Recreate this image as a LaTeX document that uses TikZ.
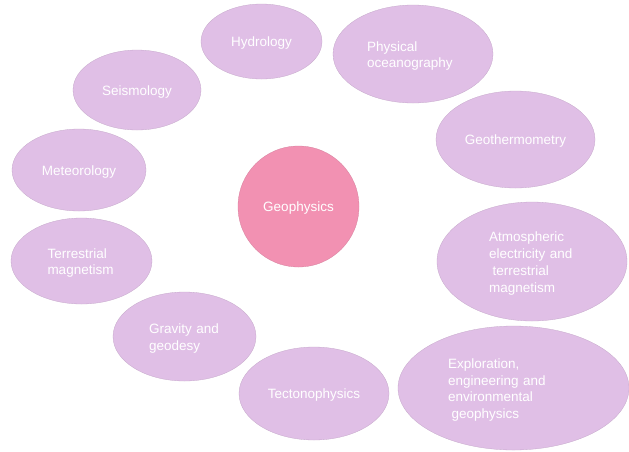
\documentclass[tikz,border=0pt]{standalone}
\usepackage{fontspec}
\setmainfont{Liberation Sans}
\usetikzlibrary{shapes.geometric}
\definecolor{lilac}{HTML}{E0BFE6}
\definecolor{rose}{HTML}{F291B2}

\begin{document}
\begin{tikzpicture}[x = 1pt, y = -1pt,
  topic/.style = {ellipse, fill = lilac, draw = lilac!88!black, line width = 0.3pt,
    text = white, inner sep = 0pt, align = left,
    font = \fontsize{13.5}{16.7}\selectfont,
    execute at begin node = \rule{0pt}{13.7pt}},
  core/.style = {circle, fill = rose, draw = rose!88!black, line width = 0.3pt,
    text = white, inner sep = 0pt, minimum size = 121pt,
    font = \fontsize{13.5}{16.7}\selectfont,
    execute at begin node = \rule{0pt}{13.7pt}}]
  \useasboundingbox (0, 0) rectangle (629, 451);

  \node[core] (geophysics) at (298.5, 206.5) {Geophysics};

  \node[topic, minimum width = 121pt, minimum height = 75pt] (hydrology) at (261.5, 41.5) {Hydrology};
  \node[topic, minimum width = 160pt, minimum height = 98pt, text width = 92pt] (oceanography) at (413, 54) {Physical\\oceanography};
  \node[topic, minimum width = 128pt, minimum height = 80pt] (seismology) at (137, 90) {Seismology};
  \node[topic, minimum width = 159pt, minimum height = 97pt] (geothermometry) at (515.5, 139.5) {Geothermometry};
  \node[topic, minimum width = 134pt, minimum height = 82pt] (meteorology) at (79, 170) {Meteorology};
  \node[topic, minimum width = 190pt, minimum height = 119pt, text width = 86pt] (atmospheric) at (532, 261.5)
    {Atmospheric\\electricity and\\\hspace*{3.5pt}terrestrial\\magnetism};
  \node[topic, minimum width = 141pt, minimum height = 86pt, text width = 68pt] (terrestrial) at (81.5, 261) {Terrestrial\\magnetism};
  \node[topic, minimum width = 143pt, minimum height = 89pt, text width = 71pt] (gravity) at (184.5, 336.5) {Gravity and\\geodesy};
  \node[topic, minimum width = 150pt, minimum height = 93pt] (tectonophysics) at (314, 393.5) {Tectonophysics};
  \node[topic, minimum width = 231pt, minimum height = 124pt, text width = 131pt] (exploration) at (513.5, 388)
    {Exploration,\\engineering and\\environmental\\\hspace*{3.5pt}geophysics};
\end{tikzpicture}
\end{document}
